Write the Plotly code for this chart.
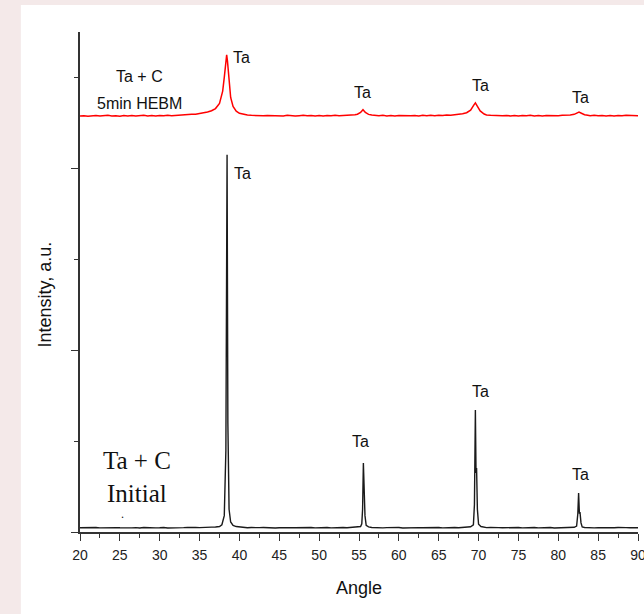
import plotly.graph_objects as go

# ---- data ----
angle_initial = [20, 20.5, 21, 21.5, 22, 22.5, 23, 23.5, 24, 24.5, 25, 25.5, 26, 26.5, 27, 27.5,
                 28, 28.5, 29, 29.5, 30, 30.5, 31, 31.5, 32, 32.5, 33, 33.5, 34, 34.5, 35, 35.5,
                 36, 36.5, 37, 37.5,
                 37.8, 38.1, 38.3, 38.45, 38.55, 38.7, 38.9, 39.2, 39.6,
                 40, 40.5, 41, 41.5, 42, 42.5, 43, 43.5, 44, 44.5, 45, 45.5, 46, 46.5, 47, 47.5, 48,
                 48.5, 49, 49.5, 50, 50.5, 51, 51.5, 52, 52.5, 53, 53.5, 54, 54.5, 55,
                 55.2, 55.35, 55.45, 55.55, 55.62, 55.68, 55.75, 55.9, 56.2, 56.6,
                 57, 57.5, 58, 58.5, 59, 59.5, 60, 60.5, 61, 61.5, 62, 62.5, 63, 63.5, 64, 64.5,
                 65, 65.5, 66, 66.5, 67, 67.5, 68, 68.5, 69,
                 69.35, 69.48, 69.6, 69.68, 69.75, 69.85, 70.0, 70.3, 70.7,
                 71, 71.5, 72, 72.5, 73, 73.5, 74, 74.5, 75, 75.5, 76, 76.5, 77, 77.5, 78, 78.5,
                 79, 79.5, 80, 80.5, 81, 81.5, 82,
                 82.3, 82.45, 82.55, 82.65, 82.72, 82.85, 83.0, 83.3, 83.7,
                 84, 84.5, 85, 85.5, 86, 86.5, 87, 87.5, 88, 88.5, 89, 89.5, 90]
intensity_initial = [46, 49, 44, 48, 50, 45, 47, 49, 44, 48, 46, 44, 50, 45, 48, 44,
                     49, 46, 48, 45, 47, 50, 44, 47, 49, 45, 48, 50, 46, 49, 48, 52,
                     51, 54, 55, 60,
                     80, 180, 900, 4150, 1200, 250, 110, 72, 60,
                     54, 50, 47, 49, 45, 48, 50, 46, 49, 44, 47, 50, 45, 48, 46, 49,
                     44, 47, 50, 45, 48, 46, 49, 45, 48, 46, 49, 47, 50, 49, 52,
                     60, 90, 250, 759, 400, 440, 180, 72, 56, 50,
                     47, 49, 45, 48, 50, 46, 49, 44, 47, 50, 45, 48, 46, 49, 44, 47,
                     50, 45, 48, 46, 49, 47, 50, 52, 58,
                     78, 300, 1342, 650, 704, 250, 85, 60, 52,
                     48, 50, 45, 48, 46, 49, 44, 47, 50, 45, 48, 46, 49, 45, 48, 46,
                     49, 44, 47, 50, 46, 49, 52,
                     65, 200, 429, 200, 220, 100, 56, 50, 47,
                     49, 45, 48, 46, 49, 44, 47, 50, 45, 48, 46, 49, 47]

angle_hebm = [20, 20.5, 21, 21.5, 22, 22.5, 23, 23.5, 24, 24.5, 25, 25.5, 26, 26.5, 27, 27.5,
              28, 28.5, 29, 29.5, 30, 30.5, 31, 31.5, 32, 32.5, 33, 33.5, 34, 34.5, 35, 35.5,
              36, 36.5, 37, 37.5,
              37.9, 38.1, 38.3, 38.4, 38.5, 38.7, 38.9, 39.2, 39.6,
              40, 40.5, 41, 41.5, 42, 42.5, 43, 43.5, 44, 44.5, 45, 45.5, 46, 46.5, 47, 47.5,
              48, 48.5, 49, 49.5, 50, 50.5, 51, 51.5, 52, 52.5, 53, 53.5, 54, 54.5,
              54.8, 55.2, 55.5, 55.8, 56.2, 56.6,
              57, 57.5, 58, 58.5, 59, 59.5, 60, 60.5, 61, 61.5, 62, 62.5, 63, 63.5, 64, 64.5,
              65, 65.5, 66, 66.5, 67, 67.5, 68, 68.5, 69,
              69.4, 69.6, 69.8, 70.2, 70.7,
              71, 71.5, 72, 72.5, 73, 73.5, 74, 74.5, 75, 75.5, 76, 76.5, 77, 77.5, 78, 78.5,
              79, 79.5, 80, 80.5, 81, 81.5, 82,
              82.4, 82.6, 82.9, 83.3, 83.7,
              84, 84.5, 85, 85.5, 86, 86.5, 87, 87.5, 88, 88.5, 89, 89.5, 90]
intensity_hebm = [4576, 4580, 4574, 4578, 4582, 4575, 4579, 4583, 4576, 4580, 4574, 4581, 4577, 4582, 4575, 4579,
                  4583, 4577, 4581, 4575, 4582, 4578, 4584, 4580, 4584, 4588, 4585, 4590, 4594, 4596, 4602, 4610,
                  4620, 4634, 4658, 4715,
                  4850, 5000, 5200, 5250, 5180, 4950, 4780, 4680, 4630,
                  4606, 4594, 4588, 4584, 4580, 4583, 4578, 4582, 4579, 4576, 4581, 4577, 4583, 4578, 4575, 4580,
                  4584, 4578, 4582, 4577, 4581, 4576, 4582, 4578, 4584, 4580, 4585, 4582, 4588, 4590,
                  4596, 4615, 4645, 4615, 4594, 4586,
                  4582, 4578, 4583, 4577, 4581, 4576, 4582, 4579, 4584, 4578, 4582, 4577, 4583, 4579, 4584, 4580,
                  4585, 4582, 4588, 4584, 4590, 4594, 4600, 4612, 4640,
                  4695, 4720, 4690, 4632, 4598,
                  4588, 4584, 4580, 4583, 4578, 4582, 4577, 4581, 4576, 4582, 4578, 4583, 4577, 4581, 4576, 4582,
                  4579, 4584, 4580, 4585, 4583, 4588, 4594,
                  4610, 4618, 4606, 4590, 4584,
                  4580, 4583, 4578, 4582, 4577, 4581, 4576, 4582, 4578, 4583, 4579, 4581, 4578]

peak_labels = ["Ta", "Ta", "Ta", "Ta"]
label_angles_hebm = [40.2, 55.5, 70.2, 82.8]
label_y_hebm = [5225, 4830, 4915, 4785]
label_angles_initial = [40.35, 55.15, 70.2, 82.8]
label_y_initial = [3940, 1000, 1550, 630]

ARIAL = "Arial, Liberation Sans, sans-serif"
TIMES = "Times New Roman, Liberation Serif, serif"

# plot area in page pixels: x 80..646, y 32..532 (figure is a bit wider than the window,
# so the right end of the axis and the "90" label are cut off like in the reference)
FIG_W, FIG_H = 654, 614
PL, PW, PT, PH = 80, 566, 32, 500


def px(xs):
    return (xs - PL) / PW


def py(ys):
    return (PT + PH - ys) / PH


fig = go.Figure()
fig.add_trace(go.Scatter(x=angle_initial, y=intensity_initial, mode="lines",
                         line=dict(color="#1a1a1a", width=1.4), showlegend=False))
fig.add_trace(go.Scatter(x=angle_hebm, y=intensity_hebm, mode="lines",
                         line=dict(color="#ff0000", width=1.5), showlegend=False))

annotations = []
for t, xa, ya in zip(peak_labels, label_angles_hebm, label_y_hebm):
    annotations.append(dict(x=xa, y=ya, text=t, showarrow=False, xref="x", yref="y",
                            xanchor="center", yanchor="middle",
                            font=dict(family=ARIAL, size=16, color="#111")))
for t, xa, ya in zip(peak_labels, label_angles_initial, label_y_initial):
    annotations.append(dict(x=xa, y=ya, text=t, showarrow=False, xref="x", yref="y",
                            xanchor="center", yanchor="middle",
                            font=dict(family=ARIAL, size=16, color="#111")))


def note(xs, ys, text, family, size, angle=0):
    return dict(x=px(xs), y=py(ys), xref="paper", yref="paper", text=text, showarrow=False,
                xanchor="center", yanchor="middle", textangle=angle,
                font=dict(family=family, size=size, color="#111"))


annotations += [
    note(140, 77, "Ta + C", ARIAL, 16),
    note(140, 103, "5min HEBM", ARIAL, 16),
    note(138, 460, "Ta + C", TIMES, 25),
    note(138, 493, "Initial", TIMES, 25),
    note(123, 514, ".", TIMES, 12),
    note(45, 294, "Intensity, a.u.", ARIAL, 18, -90),
    note(363, 588, "Angle", ARIAL, 18),
]

fig.update_layout(
    width=FIG_W, height=FIG_H,
    margin=dict(l=PL, r=FIG_W - PL - PW, t=PT, b=FIG_H - PT - PH),
    paper_bgcolor="#f4e9e9",
    plot_bgcolor="white",
    annotations=annotations,
    shapes=[dict(type="rect", xref="paper", yref="paper",
                 x0=px(20), x1=1.05, y0=-0.3, y1=py(5),
                 fillcolor="white", line=dict(width=0), layer="below")],
    xaxis=dict(range=[20, 90], tick0=20, dtick=5, ticks="outside", ticklen=7, tickwidth=1.2,
               tickcolor="#333", showline=True, linecolor="#333", linewidth=1.5,
               showgrid=False, zeroline=False, ticklabeloverflow="allow", ticklabelstandoff=2,
               tickfont=dict(family=ARIAL, size=14, color="#222"),
               minor=dict(dtick=2.5, ticks="outside", ticklen=4, tickcolor="#333", showgrid=False)),
    yaxis=dict(range=[0, 5500], tick0=0, dtick=2000, ticks="outside", ticklen=7, tickwidth=1.2,
               tickcolor="#333", showline=True, linecolor="#333", linewidth=1.5,
               showgrid=False, zeroline=False, showticklabels=False,
               minor=dict(dtick=1000, ticks="outside", ticklen=4, tickcolor="#333", showgrid=False)),
)

fig.write_html("out.html", config={"displayModeBar": False},
               post_script="document.body.style.margin='0';document.body.style.overflow='hidden';")
